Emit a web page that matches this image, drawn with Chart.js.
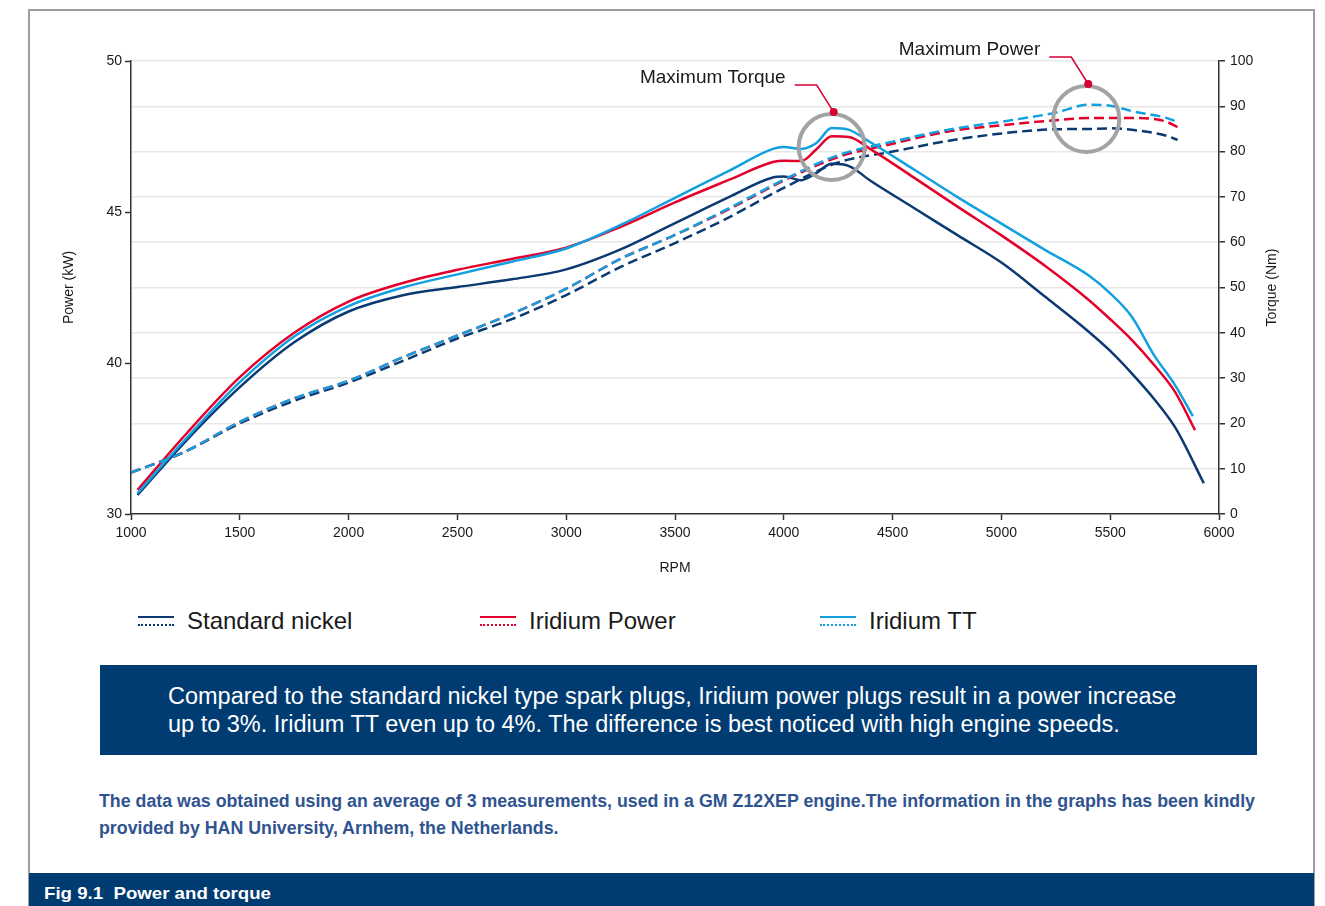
<!DOCTYPE html>
<html>
<head>
<meta charset="utf-8">
<script src="https://cdn.jsdelivr.net/npm/chart.js@4.4.1/dist/chart.umd.min.js"></script>
<style>
  body { margin: 0; width: 1325px; height: 906px; position: relative; overflow: hidden; background: #fff; font-family: 'Liberation Sans', Arial, sans-serif; }
  .frame { position: absolute; left: 28px; top: 9px; width: 1283px; height: 920px; border: 2px solid #9d9d9d; }
  #wrap { position: absolute; left: 0; top: 0; width: 1325px; height: 600px; }
  .legend-item { position: absolute; top: 606px; height: 30px; }
  .legend-icon { position: absolute; top: 10px; width: 36px; }
  .legend-icon .solid { height: 0; border-top: 2.5px solid; }
  .legend-icon .dotted { height: 0; margin-top: 6px; border-top: 2px dotted; }
  .legend-text { position: absolute; left: 49px; top: 0; font-size: 24px; line-height: 30px; color: #1a1a1a; white-space: nowrap; }
  .box { position: absolute; left: 100px; top: 665px; width: 1157px; height: 90px; background: #003b71; color: #fff; font-size: 23.5px; line-height: 28px; box-sizing: border-box; padding: 17px 0 0 68px; white-space: nowrap; }
  .note { position: absolute; left: 99px; top: 788px; color: #2f548f; font-weight: bold; font-size: 18px; line-height: 27px; white-space: nowrap; transform-origin: 0 0; }
  .footer { position: absolute; left: 29px; top: 873px; width: 1285px; height: 33px; background: #003b71; }
  .footer span { position: absolute; left: 15px; top: 11px; color: #fff; font-weight: bold; font-size: 17px; line-height: 20px; white-space: nowrap; transform-origin: 0 50%; }
</style>
</head>
<body>
<div class="frame"></div>
<div id="wrap"><canvas id="chart" width="1325" height="600"></canvas></div>
<div id="legend"></div>
<div class="box">Compared to the standard nickel type spark plugs, Iridium power plugs result in a power increase<br>up to 3%. Iridium TT even up to 4%. The difference is best noticed with high engine speeds.</div>
<div class="note" id="note"><span id="noteLine1">The data was obtained using an average of 3 measurements, used in a GM Z12XEP engine.The information in the graphs has been kindly</span><br>provided by HAN University, Arnhem, the Netherlands.</div>
<div class="footer"><span id="figTitle">Fig 9.1&nbsp; Power and torque</span></div>

<script>
// plug types
const plugNames = ['Standard nickel', 'Iridium Power', 'Iridium TT'];
const plugColors = ['#0b3a72', '#e3002b', '#12a0e0'];

// torque curves (solid, right axis, Nm)
const torqueRpm = [1030, 1250, 1500, 1750, 2000, 2250, 2500, 2750, 3000, 3250, 3500, 3750, 3950, 4000, 4080, 4150, 4220, 4300, 4400, 4600, 4800, 5000, 5200, 5400, 5500, 5600, 5700, 5800];
const torqueEndRpm = [5930, 5890, 5880];
const torqueNickel = [4.2, 16.0, 28.0, 37.9, 44.7, 48.3, 50.1, 51.8, 54.0, 58.4, 64.2, 70.0, 74.3, 74.5, 73.7, 75.3, 77.3, 76.8, 73.5, 67.5, 61.5, 55.5, 48.0, 40.3, 36.0, 31.0, 25.5, 19.0, 6.8];
const torqueIridiumPower = [5.3, 17.5, 30.2, 40.0, 46.9, 51.0, 53.9, 56.3, 58.8, 63.4, 68.8, 73.8, 77.7, 78.0, 77.9, 80.5, 83.4, 83.2, 80.5, 74.2, 67.8, 61.5, 54.8, 47.3, 43.0, 38.4, 33.0, 26.8, 18.5];
const torqueIridiumTT = [4.6, 16.5, 29.1, 39.2, 45.9, 50.0, 52.9, 55.7, 58.6, 63.8, 69.8, 75.8, 80.6, 81.0, 80.6, 81.9, 85.2, 84.8, 82.0, 76.0, 69.9, 64.1, 58.3, 52.7, 48.7, 43.5, 35.2, 28.3, 21.6];

// power curves (dashed, left axis, kW)
const powerRpm = [1000, 1250, 1500, 1750, 2000, 2250, 2500, 2750, 3000, 3250, 3500, 3750, 4000, 4250, 4500, 4750, 5000, 5250, 5400, 5500, 5600, 5750, 5810];
const powerNickel = [36.37, 37.07, 38.00, 38.75, 39.35, 40.07, 40.81, 41.45, 42.25, 43.18, 43.97, 44.83, 45.80, 46.64, 47.00, 47.35, 47.60, 47.74, 47.75, 47.77, 47.72, 47.54, 47.39];
const powerIridiumPower = [36.37, 37.07, 38.05, 38.83, 39.41, 40.19, 40.91, 41.63, 42.46, 43.45, 44.24, 45.10, 46.04, 46.82, 47.26, 47.66, 47.87, 48.04, 48.11, 48.11, 48.11, 48.01, 47.81];
const powerIridiumTT = [36.37, 37.07, 38.05, 38.83, 39.41, 40.19, 40.91, 41.63, 42.46, 43.45, 44.24, 45.13, 46.07, 46.88, 47.33, 47.72, 47.99, 48.29, 48.55, 48.52, 48.34, 48.13, 47.98];

// axis ticks
const leftTickLabels = ['30', '40', '45', '50'];

// highlighted maxima (rpm, Nm on right axis)
const markLabels = ['Maximum Torque', 'Maximum Power'];
const markRpm = [4220, 5390];
const markNm = [81.0, 87.2];

const torqueSeries = [torqueNickel, torqueIridiumPower, torqueIridiumTT];
const powerSeries = [powerNickel, powerIridiumPower, powerIridiumTT];

const datasets = [];
plugNames.forEach((name, i) => {
  const rpm = torqueRpm.concat([torqueEndRpm[i]]);
  datasets.push({
    label: name + ' torque',
    data: rpm.map((r, k) => ({ x: r, y: torqueSeries[i][k] })),
    yAxisID: 'yTorque',
    borderColor: plugColors[i],
    borderWidth: 2.5,
    pointRadius: 0,
    cubicInterpolationMode: 'monotone',
    order: 3 - i
  });
});
plugNames.forEach((name, i) => {
  datasets.push({
    label: name + ' power',
    data: powerRpm.map((r, k) => ({ x: r, y: powerSeries[i][k] })),
    yAxisID: 'yPower',
    borderColor: plugColors[i],
    borderWidth: 2.5,
    borderDash: [10, 5],
    pointRadius: 0,
    cubicInterpolationMode: 'monotone',
    order: 3 - i
  });
});

const fontFamily = '"Liberation Sans", Arial, sans-serif';

// circles + callouts for the maxima
const maxMarks = {
  id: 'maxMarks',
  afterDatasetsDraw(chart) {
    const ctx = chart.ctx;
    const xs = chart.scales.x, ys = chart.scales.yTorque;
    markLabels.forEach((label, i) => {
      const cx = xs.getPixelForValue(markRpm[i]);
      const cy = ys.getPixelForValue(markNm[i]);
      ctx.save();
      ctx.strokeStyle = '#a3a3a3';
      ctx.lineWidth = 4;
      ctx.beginPath();
      ctx.arc(cx, cy, 33, 0, Math.PI * 2);
      ctx.stroke();
      ctx.strokeStyle = '#d50032';
      ctx.lineWidth = 1.5;
      ctx.beginPath();
      ctx.moveTo(cx + 2, cy - 35);
      ctx.lineTo(cx - 15, cy - 62);
      ctx.lineTo(cx - 37, cy - 62);
      ctx.stroke();
      ctx.fillStyle = '#d50032';
      ctx.beginPath();
      ctx.arc(cx + 2, cy - 35, 4, 0, Math.PI * 2);
      ctx.fill();
      ctx.fillStyle = '#1a1a1a';
      ctx.font = '19px ' + fontFamily;
      ctx.textAlign = 'right';
      ctx.textBaseline = 'middle';
      ctx.fillText(label, cx - 46, cy - 69);
      ctx.restore();
    });
  },
  afterDraw(chart) {
    // right axis title reads bottom-to-top like the left one
    const ctx = chart.ctx;
    const a = chart.chartArea;
    ctx.save();
    ctx.translate(1272, (a.top + a.bottom) / 2);
    ctx.rotate(-Math.PI / 2);
    ctx.fillStyle = '#1a1a1a';
    ctx.font = '14px ' + fontFamily;
    ctx.textAlign = 'center';
    ctx.textBaseline = 'middle';
    ctx.fillText('Torque (Nm)', 0, 0);
    ctx.restore();
  }
};

const tickFont = { family: fontFamily, size: 14 };

new Chart(document.getElementById('chart'), {
  type: 'line',
  data: { datasets: datasets },
  options: {
    responsive: false,
    animation: false,
    layout: { padding: { top: 61, left: 0, right: 0, bottom: 0 } },
    plugins: { legend: { display: false }, tooltip: { enabled: false } },
    scales: {
      x: {
        type: 'linear',
        min: 1000,
        max: 6000,
        ticks: { stepSize: 500, color: '#1a1a1a', font: tickFont, padding: 5, callback: (v) => String(v) },
        grid: { drawOnChartArea: false, tickLength: 6, tickColor: '#333', tickWidth: 1.5 },
        border: { color: '#333', width: 1.5 },
        title: { display: true, text: 'RPM', color: '#1a1a1a', font: { family: fontFamily, size: 14 }, padding: { top: 0, bottom: 23 } },
        afterFit(scale) { scale.height = 86; }
      },
      yPower: {
        position: 'left',
        min: 35,
        max: 50,
        ticks: { stepSize: 5, color: '#1a1a1a', font: tickFont, padding: 3, callback: (v, i) => leftTickLabels[i] },
        grid: { drawOnChartArea: false, tickLength: 6, tickColor: '#333', tickWidth: 1.5 },
        border: { color: '#333', width: 1.5 },
        title: { display: true, text: 'Power (kW)', color: '#1a1a1a', font: { family: fontFamily, size: 14 }, padding: { top: 61, bottom: 0 } },
        afterFit(scale) { scale.width = 131; }
      },
      yTorque: {
        position: 'right',
        min: 0,
        max: 100,
        ticks: { stepSize: 10, color: '#1a1a1a', font: tickFont, padding: 5 },
        grid: {
          color: (c) => c.tick && c.tick.value === 0 ? 'rgba(0,0,0,0)' : '#e8e8e8',
          lineWidth: 1.5,
          tickLength: 6,
          tickColor: '#333',
          tickWidth: 1.5
        },
        border: { color: '#333', width: 1.5 },
        afterFit(scale) { scale.width = 106; }
      }
    }
  },
  plugins: [maxMarks]
});

// legend: solid line over dotted line for each plug
const legendLeft = [138, 480, 820];
const legendEl = document.getElementById('legend');
plugNames.forEach((name, i) => {
  const item = document.createElement('div');
  item.className = 'legend-item';
  item.style.left = legendLeft[i] + 'px';
  item.innerHTML = '<div class="legend-icon"><div class="solid" style="border-color:' + plugColors[i] + '"></div>' +
    '<div class="dotted" style="border-color:' + plugColors[i] + '"></div></div>' +
    '<div class="legend-text">' + name + '</div>';
  legendEl.appendChild(item);
});

// the printed note and caption use a condensed bold face; squeeze the regular bold to the same width
function condense(el, measureEl, targetWidth) {
  const w = measureEl.getBoundingClientRect().width;
  el.style.transform = 'scaleX(' + (targetWidth / w) + ')';
}
condense(document.getElementById('note'), document.getElementById('noteLine1'), 1156);
condense(document.getElementById('figTitle'), document.getElementById('figTitle'), 227);
</script>
</body>
</html>
